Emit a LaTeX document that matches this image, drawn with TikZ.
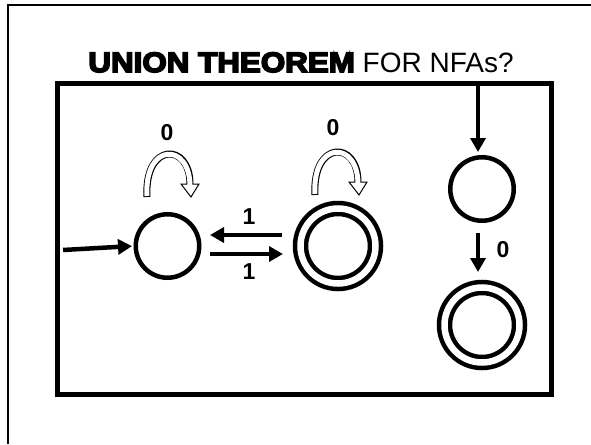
\documentclass[tikz,border=0pt]{standalone}
\usepackage{fontspec}
\setmainfont{Liberation Sans}
\newfontfamily\heavyfont{Liberation Sans Bold}[FakeBold=6,FakeStretch=1.12]
\usetikzlibrary{arrows.meta,calc}

\begin{document}
\begin{tikzpicture}[x=1pt, y=-1pt,
  state/.style={circle, draw, line width=4.5pt, minimum size=63.5pt, inner sep=0pt},
  final/.style={circle, draw, line width=4.5pt, double, double distance=6.5pt,
    minimum size=75pt, inner sep=0pt, outer sep=7.75pt},
  arr/.style={line width=4.5pt, -{Triangle[length=14pt,width=15pt]}},
  sym/.style={font=\bfseries\fontsize{23}{23}\selectfont, inner sep=0pt},
  selfloop/.pic={
    \draw[line width=7pt] (-20,0) .. controls (-23,-55) and (23,-55) .. (23,-13);
    \filldraw[fill=white, line width=1pt] (14,-13) -- (32,-13) -- (24,0) -- cycle;
    \draw[white, line width=5pt, shorten <=1pt, shorten >=-2pt]
      (-20,0) .. controls (-23,-55) and (23,-55) .. (23,-13);
  }]
\useasboundingbox (0,0) rectangle (591,444);
% frames
\draw[line width=1.5pt] (8,444) -- (8,5) -- (591,5);
\draw[line width=5pt] (57.5,83) rectangle (551,394);
% title
\node[anchor=base, inner sep=0pt] (title) at (301,72)
  {\fontsize{28}{30}\selectfont{\heavyfont UNION THEOREM} FOR NFAs?};
% states
\node[state] (q1) at (167.5,246) {};
\node[final] (q2) at (338,246) {};
\node[state] (q3) at (482,189) {};
\node[final] (q4) at (482,325) {};
\coordinate (s1) at (63,250);
\coordinate (s3) at (478,83);
% transitions
\draw[arr, shorten >=1.5pt] (s1) -- (q1.west);
\draw[arr, shorten <=11pt, shorten >=8.5pt] ([yshift=11pt]q2.west) -- ([yshift=11pt]q1.east);
\draw[arr, shorten <=8.5pt, shorten >=9.75pt] ([yshift=-8pt]q1.east) -- ([yshift=-8pt]q2.west);
\draw[arr, shorten >=3pt] (s3) -- (s3 |- q3.north);
\draw[arr, shorten <=10pt, shorten >=7.75pt] ([xshift=-4pt]q3.south) -- ([xshift=-4pt]q4.north);
\pic at (167,197) {selfloop};
\pic at (335,195) {selfloop};
% labels
\node[sym] (l1) at (249,217) {1};
\node[sym] (l2) at (249,272) {1};
\node[sym] (l3) at (167,133) {0};
\node[sym] (l4) at (333,128) {0};
\node[sym] (l5) at (503,250) {0};
\end{tikzpicture}
\end{document}
